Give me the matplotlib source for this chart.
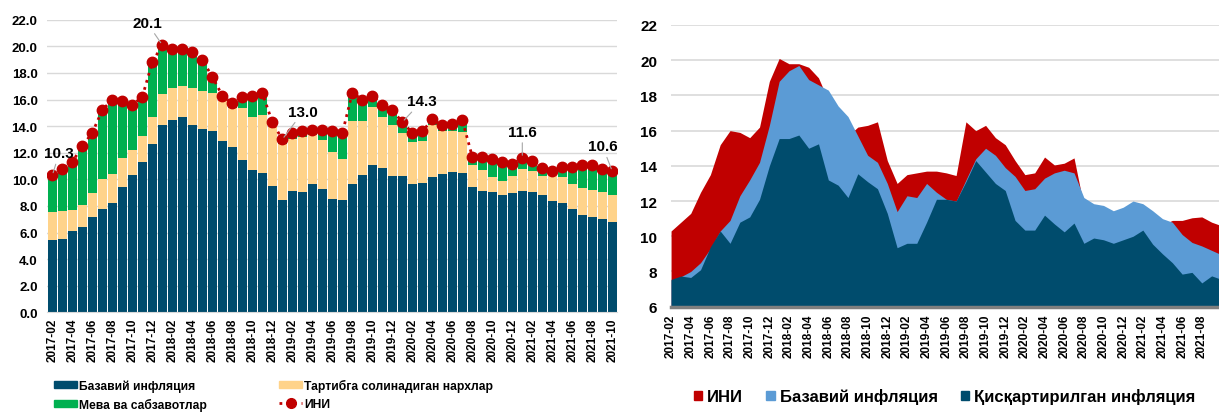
import numpy as np
import pandas as pd
import matplotlib
matplotlib.use('Agg')
import matplotlib.pyplot as plt
from matplotlib.patches import Patch
from matplotlib.lines import Line2D

plt.rcParams['font.family'] = ['Liberation Sans', 'DejaVu Sans']
plt.rcParams['font.weight'] = 'bold'

# =========================
# data
# =========================
months = list(pd.period_range('2017-02', '2021-10', freq='M').strftime('%Y-%m'))

# left panel: contributions to CPI, pp
base_contrib = [5.40, 5.50, 6.10, 6.45, 7.15, 7.80, 8.20, 9.40, 10.35, 11.30,
                12.65, 14.05, 14.45, 14.65, 14.05, 13.75, 13.60, 12.85, 12.40, 11.45,
                10.70, 10.50, 9.50, 8.45, 9.10, 9.05, 9.65, 9.30, 8.55, 8.45,
                9.65, 10.30, 11.10, 10.85, 10.25, 10.25, 9.65, 9.75, 10.20, 10.40,
                10.55, 10.50, 9.40, 9.15, 9.05, 8.80, 9.00, 9.15, 9.05, 8.80,
                8.40, 8.25, 7.75, 7.35, 7.20, 7.00, 6.80]
reg_contrib = [2.15, 2.10, 1.60, 1.60, 1.80, 2.20, 2.20, 2.20, 1.85, 1.95,
               2.00, 2.35, 2.40, 2.35, 2.80, 2.90, 2.90, 3.10, 2.95, 3.90,
               4.00, 4.30, 4.50, 4.20, 3.95, 4.15, 3.65, 3.65, 3.50, 3.05,
               4.75, 4.10, 4.30, 3.85, 3.80, 3.20, 3.15, 3.10, 3.90, 3.25,
               3.10, 3.05, 1.65, 1.55, 1.15, 1.10, 1.25, 1.60, 1.60, 1.45,
               1.90, 1.95, 1.90, 2.00, 2.00, 2.05, 2.00]
fruit_contrib = [2.75, 3.20, 3.60, 4.45, 4.55, 5.20, 5.60, 4.30, 3.40, 2.95,
                 4.15, 3.70, 2.95, 2.80, 2.75, 2.35, 1.20, 0.35, 0.35, 0.85,
                 1.60, 1.70, 0.30, 0.35, 0.45, 0.40, 0.40, 0.75, 1.55, 1.95,
                 2.10, 1.60, 0.90, 0.90, 1.15, 0.85, 0.70, 0.75, 0.40, 0.40,
                 0.50, 0.90, 0.65, 1.00, 1.30, 1.40, 0.90, 0.85, 0.70, 0.60,
                 0.35, 0.70, 1.25, 1.70, 1.90, 1.75, 1.80]
cpi = [10.3, 10.8, 11.3, 12.5, 13.5, 15.2, 16.0, 15.9, 15.6, 16.2,
       18.8, 20.1, 19.8, 19.8, 19.6, 19.0, 17.7, 16.3, 15.7, 16.2,
       16.3, 16.5, 14.3, 13.0, 13.5, 13.6, 13.7, 13.7, 13.6, 13.45,
       16.5, 16.0, 16.3, 15.6, 15.2, 14.3, 13.5, 13.6, 14.5, 14.05,
       14.15, 14.45, 11.7, 11.7, 11.5, 11.3, 11.15, 11.6, 11.35, 10.85,
       10.65, 10.9, 10.9, 11.05, 11.1, 10.8, 10.6]

# right panel: inflation rates, %
core = [7.5, 7.7, 8.0, 8.5, 9.3, 10.3, 10.9, 12.3, 13.2, 14.2,
        16.3, 18.8, 19.4, 19.7, 18.9, 18.6, 18.3, 17.4, 16.8, 15.7,
        14.6, 14.2, 13.0, 11.4, 12.3, 12.2, 13.0, 12.5, 12.1, 12.0,
        13.2, 14.4, 15.0, 14.6, 13.9, 13.4, 12.6, 12.7, 13.3, 13.6,
        13.75, 13.6, 12.2, 11.85, 11.75, 11.45, 11.65, 12.0, 11.85, 11.45,
        11.0, 10.8, 10.1, 9.65, 9.45, 9.2, 8.95]
trimmed = [7.55, 7.74, 7.66, 8.1, 9.4, 10.3, 9.6, 10.8, 11.1, 12.1,
           14.0, 15.55, 15.55, 15.75, 15.0, 15.25, 13.2, 12.9, 12.2, 13.55,
           13.1, 12.7, 11.3, 9.35, 9.6, 9.6, 10.8, 12.1, 12.1, 12.0,
           13.1, 14.3, 13.65, 13.0, 12.6, 10.9, 10.35, 10.35, 11.2, 10.7,
           10.25, 10.75, 9.6, 9.9, 9.8, 9.6, 9.8, 10.0, 10.35, 9.55,
           9.0, 8.5, 7.85, 7.95, 7.35, 7.75, 7.55]

# points labelled on the left panel
labelled = [0, 11, 23, 35, 47, 56]
label_offsets = [(5, 16), (-11, 16), (15, 20), (14, 15), (0, 19), (-7, 18)]

C_DARK = '#004C6D'
C_YELLOW = '#FFD38A'
C_GREEN = '#00B050'
C_RED = '#C00000'
C_BLUE = '#5B9BD5'
C_GRID = '#D9D9D9'

x = np.arange(len(months))

fig = plt.figure(figsize=(12.19, 4.14), dpi=100)

# =========================
# 1. Left: stacked contributions
# =========================
ax1 = fig.add_axes([0.0388, 0.2432, 0.4676, 0.7068])
bw = 0.85
ax1.bar(x, base_contrib, bw, color=C_DARK, zorder=2)
ax1.bar(x, reg_contrib, bw, bottom=base_contrib, color=C_YELLOW, zorder=2)
bottom2 = np.array(base_contrib) + np.array(reg_contrib)
ax1.bar(x, fruit_contrib, bw, bottom=bottom2, color=C_GREEN, zorder=2)
ax1.plot(x, cpi, color=C_RED, ls=':', lw=2, marker='o', ms=7.5, zorder=4)

for i, off in zip(labelled, label_offsets):
    ax1.annotate(f'{cpi[i]:.1f}', (i, cpi[i]), xytext=off, textcoords='offset points',
                 ha='center', va='center', fontsize=11, fontweight='bold', zorder=5,
                 arrowprops=dict(arrowstyle='-', color='#A6A6A6', lw=0.8, shrinkA=1, shrinkB=2))

ax1.set_xlim(-0.5, len(months) - 0.5)
ax1.set_ylim(0, 22)
ax1.set_yticks(np.arange(0, 23, 2))
ax1.set_yticklabels([f'{v:.1f}' for v in np.arange(0, 23, 2)])
ax1.set_xticks(x[::2])
ax1.set_xticklabels(months[::2], rotation=90)
ax1.grid(axis='y', color=C_GRID, lw=1, zorder=0)
ax1.set_axisbelow(True)
for s in ['top', 'right', 'left']:
    ax1.spines[s].set_visible(False)
ax1.spines['bottom'].set_color(C_GRID)
ax1.tick_params(axis='y', length=0, pad=7, labelsize=9.5)
ax1.tick_params(axis='x', length=0, pad=4, labelsize=8.5)

left_handles = [Patch(color=C_DARK), Patch(color=C_GREEN), Patch(color=C_YELLOW),
                Line2D([], [], color=C_RED, ls=':', lw=2, marker='o', ms=7)]
left_labels = ['Базавий инфляция', 'Мева ва сабзавотлар',
               'Тартибга солинадиган нархлар', 'ИНИ']
fig.legend(left_handles, left_labels, ncol=2, loc='upper left',
           bbox_to_anchor=(0.044, 0.082), frameon=False, fontsize=8.75,
           handlelength=1.9, handleheight=0.55, handletextpad=0.15,
           columnspacing=6.0, labelspacing=0.45, borderpad=0, borderaxespad=0)

# =========================
# 2. Right: overlapping areas
# =========================
ax2 = fig.add_axes([0.5505, 0.2568, 0.4495, 0.6804])
ax2.fill_between(x, 0, cpi, color=C_RED, lw=0, zorder=2)
ax2.fill_between(x, 0, core, color=C_BLUE, lw=0, zorder=2)
ax2.fill_between(x, 0, trimmed, color=C_DARK, lw=0, zorder=2)

ax2.set_xlim(0, 55.75)
ax2.set_ylim(6, 22)
ax2.set_yticks(np.arange(6, 23, 2))
ax2.set_xticks(x[:55:2])
ax2.set_xticklabels(months[:55:2], rotation=90)
ax2.grid(axis='y', color=C_GRID, lw=1.2, zorder=0)
ax2.set_axisbelow(True)
for s in ['top', 'right', 'left']:
    ax2.spines[s].set_visible(False)
ax2.spines['bottom'].set_color('#7F7F7F')
ax2.spines['bottom'].set_linewidth(2.5)
ax2.spines['bottom'].set_zorder(3)
ax2.tick_params(axis='y', length=0, pad=10, labelsize=11)
ax2.tick_params(axis='x', length=0, pad=5, labelsize=8.5)

right_handles = [Patch(color=C_RED), Patch(color=C_BLUE), Patch(color=C_DARK)]
right_labels = ['ИНИ', 'Базавий инфляция', 'Қисқартирилган инфляция']
fig.legend(right_handles, right_labels, ncol=3, loc='center',
           bbox_to_anchor=(0.775, 0.04), frameon=False, fontsize=12,
           handlelength=0.5, handleheight=0.5, handletextpad=0.3,
           columnspacing=1.4, borderpad=0, borderaxespad=0)

fig.savefig('out.png', dpi=100)
plt.close(fig)
